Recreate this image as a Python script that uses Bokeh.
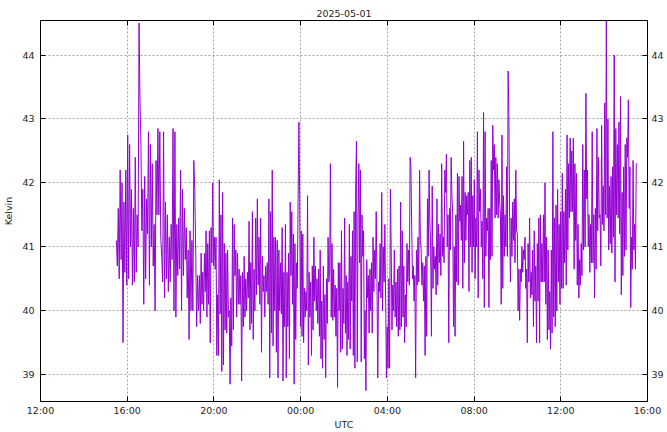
import numpy as np
from bokeh.plotting import figure
from bokeh.models import LinearAxis, DatetimeAxis, FixedTicker, DatetimeTickFormatter, Range1d, CustomJSTickFormatter
from bokeh.embed import file_html
from bokeh.resources import INLINE

title_text = "2025-05-01"
x_label = "UTC"
y_label = "Kelvin"

# start times of the successive stretches of readings (last entry = time of final reading)
segment_starts = ["2025-05-01T15:30", "2025-05-01T19:20", "2025-05-01T23:18",
                  "2025-05-02T03:16", "2025-05-02T07:14", "2025-05-02T11:12",
                  "2025-05-02T15:31"]

seg1 = [41.1, 40.7, 41.6, 40.5, 42.2, 40.8, 42.0, 39.5, 41.7, 40.6, 42.2, 40.4, 42.75, 40.5, 42.6, 41.0,
        41.9, 40.4, 41.6, 40.45, 42.4, 40.6, 41.5, 41.0, 44.5, 43.3, 42.6, 41.25, 41.9, 40.1, 42.1, 40.5,
        41.75, 41.2, 42.8, 40.4, 42.6, 41.0, 42.3, 40.7, 41.35, 40.0, 42.35, 41.5, 42.85, 41.5, 42.8, 41.15,
        40.85, 40.45, 42.8, 40.2, 41.7, 40.5, 41.5, 40.3, 41.15, 40.45, 41.35, 40.8, 42.85, 40.0, 42.8, 39.9,
        41.35, 40.55, 41.45, 40.65, 42.2, 40.0, 41.9, 40.55, 41.6, 40.8, 41.3, 40.2, 40.95, 39.55, 41.25, 40.0,
        41.1, 40.0, 42.35, 41.9, 40.95, 39.75, 40.55, 40.0]
seg2 = [40.55, 39.8, 40.9, 40.1, 40.6, 40.0, 40.9, 40.3, 41.25, 39.9, 41.05, 40.1, 41.25, 39.5, 41.3, 40.75,
        42.0, 40.7, 41.15, 40.65, 41.15, 39.3, 40.25, 39.3, 42.05, 39.95, 41.5, 39.05, 41.85, 39.15, 41.05, 39.7,
        40.9, 39.65, 40.95, 39.9, 40.0, 38.85, 40.2, 39.45, 41.45, 39.7, 41.35, 40.55, 40.95, 39.9, 40.9, 40.1,
        40.65, 40.1, 40.55, 38.9, 40.6, 39.75, 40.85, 39.9, 40.5, 40.0, 40.6, 40.2, 41.4, 39.7, 40.75, 39.8,
        41.55, 39.55, 40.65, 40.0, 41.45, 40.25, 41.75, 40.4, 41.15, 40.1, 41.45, 39.35, 40.85, 40.3, 40.55, 39.9,
        40.7, 40.3, 40.75, 40.1, 41.75, 38.95, 41.55, 39.65, 42.2, 39.45, 41.15, 40.0, 41.15, 39.35, 41.1, 38.95,
        40.95, 40.0, 40.75, 39.95, 41.3, 38.9, 40.6, 39.75]
seg3 = [41.35, 38.95, 40.6, 39.75, 40.9, 39.25, 41.7, 40.55, 41.55, 40.1, 41.2, 38.85, 41.05, 39.55, 40.75, 40.35,
        41.7, 42.95, 41.8, 39.75, 41.25, 39.6, 41.2, 39.5, 40.35, 39.9, 40.3, 40.0, 41.8, 39.15, 40.6, 39.9,
        40.45, 39.3, 40.7, 39.7, 41.15, 40.15, 40.7, 40.0, 40.5, 39.8, 40.65, 39.6, 40.95, 39.25, 40.15, 39.1,
        40.7, 39.55, 40.25, 38.95, 40.5, 39.8, 41.15, 40.45, 40.65, 42.3, 39.9, 41.05, 39.85, 40.65, 39.9, 40.4,
        39.6, 40.35, 38.8, 40.75, 40.0, 40.75, 39.35, 41.25, 39.4, 40.35, 39.8, 41.45, 39.65, 40.55, 39.3, 40.45,
        39.55, 41.35, 39.4, 40.85, 40.15, 41.25, 39.3, 41.55, 39.1, 41.95, 42.65, 39.2, 41.5, 42.3, 40.75, 42.2,
        39.2, 41.5, 40.85, 41.25, 39.25, 40.0, 38.75, 40.8, 40.2, 40.55, 39.65, 40.65, 40.0]
seg4 = [40.75, 39.65, 41.15, 40.3, 40.95, 40.5, 41.55, 40.45, 38.95, 40.45, 40.3, 41.05, 40.2, 41.85, 40.0, 41.0,
        40.45, 41.35, 40.15, 38.95, 39.75, 39.1, 40.5, 39.1, 41.9, 41.0, 39.7, 40.4, 40.0, 40.95, 39.9, 40.45,
        39.75, 40.65, 39.6, 40.7, 39.7, 41.7, 39.75, 41.25, 39.9, 40.7, 39.5, 40.25, 39.75, 41.05, 40.45, 40.95,
        40.4, 42.4, 42.25, 41.3, 40.5, 40.7, 40.15, 40.55, 38.95, 40.95, 40.4, 41.15, 40.45, 42.2, 41.1, 40.95,
        40.4, 40.75, 40.15, 40.7, 39.3, 40.85, 39.6, 41.75, 40.85, 42.2, 41.4, 41.0, 39.6, 41.95, 40.35, 41.0,
        40.65, 40.85, 40.25, 41.75, 40.4, 41.35, 40.75, 41.2, 40.55, 42.3, 40.85, 41.15, 40.75, 42.2, 41.85, 42.45,
        41.0, 41.5, 39.5, 41.6, 40.95, 42.4, 41.8, 41.5, 39.75, 41.0, 39.6, 41.5, 40.45]
seg5 = [42.15, 40.4, 42.1, 41.4, 41.65, 41.1, 42.1, 40.35, 42.65, 40.75, 41.85, 41.1, 41.8, 41.5, 41.85, 40.3,
        42.35, 41.0, 42.4, 40.6, 41.8, 41.0, 42.05, 40.5, 41.45, 41.0, 42.8, 40.2, 42.2, 41.55, 41.9, 41.0,
        41.4, 40.5, 43.1, 40.05, 42.8, 40.85, 41.45, 41.25, 41.6, 40.05, 41.6, 40.8, 42.35, 40.85, 42.9, 42.2,
        42.6, 41.45, 42.4, 41.5, 42.3, 41.45, 42.05, 41.7, 41.5, 40.1, 42.75, 40.35, 41.8, 40.85, 41.5, 41.0,
        42.25, 40.85, 43.75, 43.05, 41.4, 40.45, 41.45, 40.85, 41.7, 41.1, 41.75, 40.75, 42.2, 41.25, 41.2, 40.0,
        40.65, 39.85, 40.65, 40.45, 41.0, 40.6, 40.95, 40.8, 41.15, 40.35, 40.65, 39.5, 41.05, 40.45, 41.45, 40.2,
        40.6, 40.25, 40.95, 39.75, 41.25, 40.15, 40.7, 39.5, 41.05, 40.15, 41.45, 39.5, 41.5, 40.45, 41.05, 40.45]
seg6 = [41.5, 40.45, 42.0, 40.1, 41.15, 39.55, 40.95, 39.7, 40.3, 39.4, 40.95, 39.65, 42.8, 39.9, 41.45, 39.75,
        41.65, 40.0, 41.9, 40.45, 41.35, 40.1, 41.55, 40.35, 42.15, 40.35, 41.55, 40.75, 41.9, 40.4, 42.75, 40.95,
        42.3, 41.45, 42.7, 41.55, 42.5, 41.55, 42.7, 40.65, 42.3, 41.1, 42.15, 40.4, 41.35, 40.2, 40.8, 40.4,
        41.05, 40.55, 42.6, 40.95, 42.2, 41.0, 43.4, 41.75, 42.2, 41.0, 41.5, 40.6, 41.35, 40.75, 42.8, 40.75,
        41.5, 40.2, 41.6, 40.65, 42.85, 41.25, 42.4, 41.45, 41.5, 40.7, 42.9, 41.35, 41.95, 41.25, 43.25, 41.5,
        44.55, 41.45, 43.0, 40.95, 41.95, 41.05, 42.1, 40.9, 42.25, 41.15, 44.0, 40.45, 42.85, 41.5, 42.6, 41.45,
        42.95, 41.2, 43.35, 40.25, 41.85, 40.55, 42.25, 40.85, 42.6, 40.95, 42.7, 42.4, 43.3, 41.6, 42.25, 40.05,
        41.15, 40.65, 42.35, 40.95, 41.35, 40.65, 42.3, 42.3]
segments = [seg1, seg2, seg3, seg4, seg5, seg6]

x_range_limits = ["2025-05-01T12:00", "2025-05-02T16:00"]
x_tick_times = ["2025-05-01T12:00", "2025-05-01T16:00", "2025-05-01T20:00", "2025-05-02T00:00",
                "2025-05-02T04:00", "2025-05-02T08:00", "2025-05-02T12:00", "2025-05-02T16:00"]
y_ticks = [39, 40, 41, 42, 43, 44]
y_range_limits = [38.58, 44.54]


def ms(s):
    return float(np.datetime64(s, "ms").astype("int64"))


xs, ys = [], []
for i, vals in enumerate(segments):
    t0, t1 = ms(segment_starts[i]), ms(segment_starts[i + 1])
    n = len(vals)
    last = i == len(segments) - 1
    frac = np.arange(n) / ((n - 1) if last else n)
    xs.extend(t0 + (t1 - t0) * frac)
    ys.extend(vals)

FONT = "DejaVu Sans"
FS = "9.5px"
TXT = "#262626"

p = figure(width=667, height=432, output_backend="svg", toolbar_location=None,
           x_axis_type="datetime",
           x_range=Range1d(ms(x_range_limits[0]), ms(x_range_limits[1])),
           y_range=Range1d(*y_range_limits),
           min_border_left=40, min_border_right=20, min_border_top=20, min_border_bottom=27)
p.title.text = title_text
p.title.align = "center"
p.title.text_font = FONT
p.title.text_font_size = FS
p.title.text_font_style = "normal"
p.title.text_color = TXT
p.title.standoff = 8

p.line(xs, ys, line_color="#9400d3", line_width=1)

xticker = FixedTicker(ticks=[ms(t) for t in x_tick_times])
yticker = FixedTicker(ticks=y_ticks)

p.xaxis.ticker = xticker
p.xaxis.formatter = DatetimeTickFormatter(hours="%H:%M", days="%H:%M", hourmin="%H:%M", minutes="%H:%M")
p.yaxis.ticker = yticker
p.xaxis.axis_label = x_label
p.yaxis.axis_label = y_label

right_axis = LinearAxis(ticker=yticker)
p.add_layout(right_axis, "right")
top_axis = DatetimeAxis(ticker=xticker, formatter=CustomJSTickFormatter(code="return ''"))
p.add_layout(top_axis, "above")

for ax in p.axis:
    ax.axis_line_color = "black"
    ax.axis_line_width = 1
    ax.major_tick_in = 5
    ax.major_tick_out = 0
    ax.minor_tick_line_color = None
    ax.major_tick_line_color = "black"
    ax.major_label_text_font = FONT
    ax.major_label_text_font_size = FS
    ax.major_label_standoff = 3
    ax.major_label_text_color = TXT
    ax.axis_label_text_font = FONT
    ax.axis_label_text_font_size = FS
    ax.axis_label_text_font_style = "normal"
    ax.axis_label_standoff = 0
    ax.axis_label_text_color = TXT
top_axis.major_label_standoff = 0
p.yaxis[0].major_label_standoff = 6
p.yaxis[0].axis_label_standoff = 5
right_axis.major_label_standoff = 4
p.xaxis[0].major_label_standoff = 7
p.xaxis[0].axis_label_standoff = -5

p.outline_line_color = "black"
p.outline_line_width = 1
p.grid.grid_line_color = "#a0a0a0"
p.grid.grid_line_dash = "2 2"
p.xgrid.ticker = xticker
p.ygrid.ticker = yticker
p.background_fill_color = "white"
p.border_fill_color = "white"

open("out.html", "w").write(file_html(p, INLINE))
